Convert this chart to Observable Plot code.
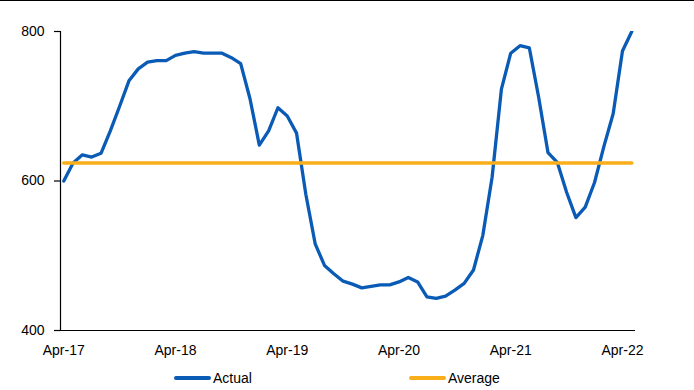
<!DOCTYPE html>
<html>
<head>
<meta charset="utf-8">
<script src="https://cdn.jsdelivr.net/npm/d3@7"></script>
<script src="https://cdn.jsdelivr.net/npm/@observablehq/plot@0.6"></script>
<style>
  html, body { margin: 0; padding: 0; background: #fff; }
  body { width: 694px; height: 390px; overflow: hidden; font-family: "Liberation Sans", Arial, sans-serif; }
  #wrap { position: relative; width: 694px; height: 390px; }
  #topline { position: absolute; left: 0; top: 0; width: 694px; height: 1px; background: #000; }
  #legend { position: absolute; left: 0; top: 360px; width: 694px; height: 30px; font-size: 14px; color: #000; }
  .item { position: absolute; top: 9px; display: flex; align-items: center; height: 18px; }
  .swatch { width: 37px; height: 3.5px; margin-right: 2px; border-radius: 2px; }
</style>
</head>
<body>
<div id="wrap">
  <div id="chart"></div>
  <div id="topline"></div>
  <div id="legend"></div>
</div>
<script>
// Monthly readings, Apr-17 through May-22
const startLabel = "Apr-17";
const actual = [
  600, 624, 635, 632, 637, 667, 700, 734, 750, 759, 761, 761,
  768, 771, 773, 771, 771, 771, 765, 757, 710, 648, 667, 698,
  687, 664, 582, 516, 487, 476, 466, 462, 457, 459, 461, 461,
  465, 471, 465, 445, 443, 446, 454, 463, 481, 527, 605, 723,
  771, 781, 778, 712, 638, 625, 585, 551, 565, 598, 646, 690,
  774, 800
];
const averageValue = 624;

// x-axis labels, one every 12 months
const tickMonths = [0, 12, 24, 36, 48, 60];
const tickLabels = ["Apr-17", "Apr-18", "Apr-19", "Apr-20", "Apr-21", "Apr-22"];
const yTicks = [400, 600, 800];

const seriesNames = ["Actual", "Average"];
const seriesColors = ["#0A5BB5", "#F9AE1A"];

const actualRows = actual.map((v, i) => ({month: i, value: v}));
const averageRows = actual.map((v, i) => ({month: i, value: averageValue}));

const xDomain = [-0.35, 61.4];

const chart = Plot.plot({
  width: 694,
  height: 360,
  marginTop: 31,
  marginBottom: 30,
  marginLeft: 60,
  marginRight: 59,
  style: {fontFamily: "Liberation Sans, Arial, sans-serif", fontSize: "14px", color: "#000", background: "#fff"},
  x: {domain: xDomain},
  y: {domain: [400, 800]},
  marks: [
    Plot.axisY(yTicks, {tickSize: 6, tickPadding: 10, tickFormat: d => d, label: null, stroke: "#000", strokeWidth: 1.2}),
    Plot.axisX(tickMonths, {tickSize: 0, tickPadding: 15, tickFormat: (d, i) => tickLabels[i], label: null}),
    Plot.ruleX([xDomain[0]], {y1: 400, y2: 800, stroke: "#000", strokeWidth: 1.2}),
    Plot.ruleY([400], {stroke: "#000", strokeWidth: 1.2}),
    Plot.line(actualRows, {x: "month", y: "value", stroke: seriesColors[0], strokeWidth: 3.3, strokeLinejoin: "round", clip: true}),
    Plot.line(averageRows, {x: "month", y: "value", stroke: seriesColors[1], strokeWidth: 3.6})
  ]
});
document.getElementById("chart").appendChild(chart);

// Legend below the plot
const legendPos = [174, 409];
const legend = document.getElementById("legend");
seriesNames.forEach((name, k) => {
  const item = document.createElement("div");
  item.className = "item";
  item.style.left = legendPos[k] + "px";
  const sw = document.createElement("span");
  sw.className = "swatch";
  sw.style.background = seriesColors[k];
  const tx = document.createElement("span");
  tx.textContent = name;
  item.appendChild(sw);
  item.appendChild(tx);
  legend.appendChild(item);
});
</script>
</body>
</html>
